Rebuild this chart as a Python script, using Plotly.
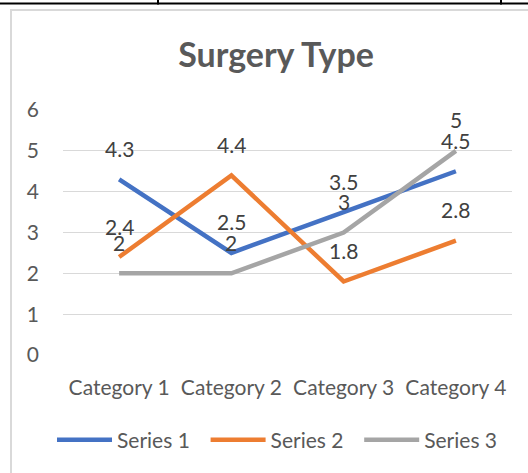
import plotly.graph_objects as go

categories = ["Category 1", "Category 2", "Category 3", "Category 4"]
series_names = ["Series 1", "Series 2", "Series 3"]
series1 = [4.3, 2.5, 3.5, 4.5]
series2 = [2.4, 4.4, 1.8, 2.8]
series3 = [2, 2, 3, 5]
y_ticks = [0, 1, 2, 3, 4, 5, 6]
colors = ["#4472C4", "#ED7D31", "#A5A5A5"]

W, H = 528, 473
ML, MR, MT, MB = 63, 16, 110, 118
PW, PH = W - ML - MR, H - MT - MB

def px(x):
    return (x - ML) / PW

def py(y):
    return (H - MB - y) / PH

FONT = "Lato, Calibri, Carlito, sans-serif"

fig = go.Figure()
for name, vals, col in zip(series_names, [series1, series2, series3], colors):
    fig.add_trace(go.Scatter(
        x=categories, y=vals, name=name + "\u00a0\u00a0", mode="lines",
        line=dict(color=col, width=4.5), hoverinfo="skip",
    ))
    for c, v in zip(categories, vals):
        fig.add_annotation(x=c, y=v, text=f"{v:g}", showarrow=False,
                           yshift=31, font=dict(family=FONT, size=21, color="#404040"))

shapes = [
    # table top line
    dict(type="line", xref="paper", yref="paper", x0=px(0), x1=px(528), y0=py(3.5), y1=py(3.5),
         line=dict(color="black", width=2)),
    dict(type="line", xref="paper", yref="paper", x0=px(158), x1=px(158), y0=py(0), y1=py(4.5),
         line=dict(color="black", width=2)),
    dict(type="line", xref="paper", yref="paper", x0=px(501), x1=px(501), y0=py(0), y1=py(4.5),
         line=dict(color="black", width=2)),
    # chart border
    dict(type="line", xref="paper", yref="paper", x0=px(10), x1=px(528), y0=py(10), y1=py(10),
         line=dict(color="#D9D9D9", width=2)),
    dict(type="line", xref="paper", yref="paper", x0=px(11), x1=px(11), y0=py(10), y1=py(473),
         line=dict(color="#D9D9D9", width=2)),
]

fig.update_layout(
    width=W, height=H,
    margin=dict(l=ML, r=MR, t=MT, b=MB, pad=0),
    paper_bgcolor="white", plot_bgcolor="white",
    title=dict(text="<b>Surgery Type</b>", x=276 / W, xanchor="center", y=1 - 55 / H, yanchor="middle",
               font=dict(family=FONT, size=34, color="#595959")),
    xaxis=dict(showgrid=False, showline=False, zeroline=False, ticks="", ticklabelstandoff=18,
               tickfont=dict(family=FONT, size=21, color="#595959"), range=[-0.5, 3.5]),
    yaxis=dict(range=[0, 6], tickvals=y_ticks, showgrid=True, gridcolor="#D9D9D9", gridwidth=1,
               zeroline=False, showline=False, ticks="", ticklabelstandoff=23,
               tickfont=dict(family=FONT, size=21, color="#595959")),
    showlegend=True,
    legend=dict(orientation="h", x=px(52), xanchor="left", y=py(440), yanchor="middle",
                font=dict(family=FONT, size=21, color="#595959"), itemwidth=55, tracegroupgap=0),
    shapes=shapes,
)
fig.write_html("out.html", post_script="document.body.style.margin='0';",
               config={"displayModeBar": False})
